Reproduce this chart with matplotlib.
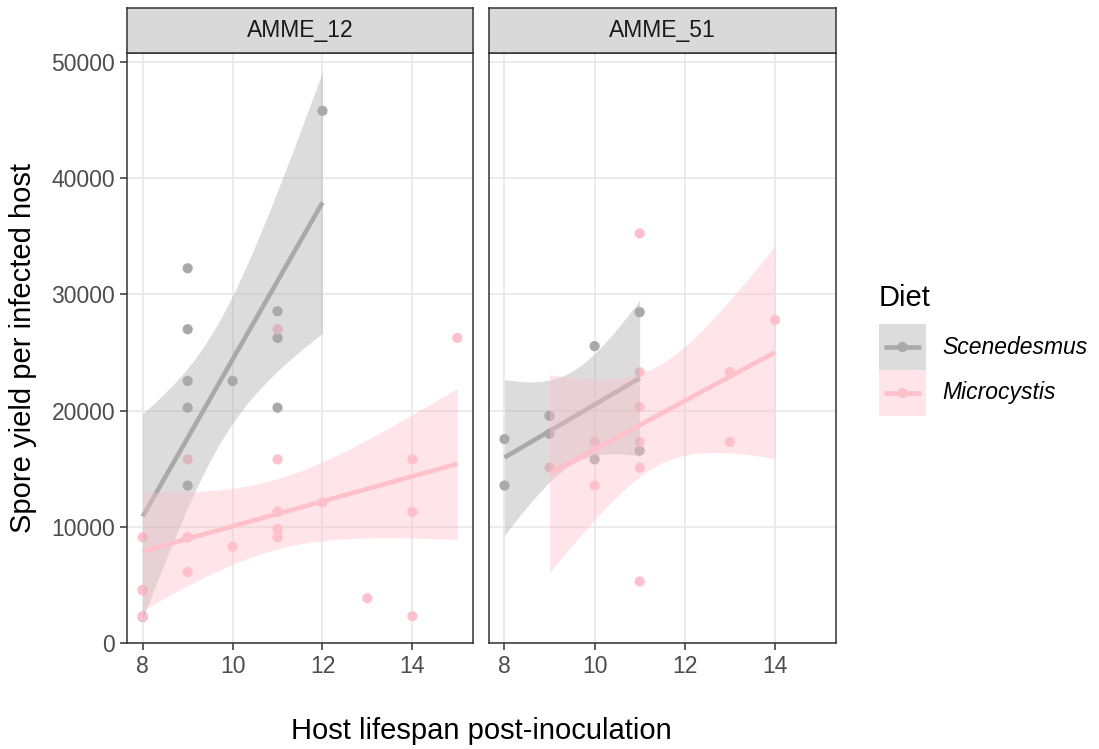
import numpy as np
import matplotlib
matplotlib.use("Agg")
import matplotlib.pyplot as plt
from matplotlib.patches import Rectangle
from math import gamma, sqrt, pi

plt.rcParams["font.family"] = ["Liberation Sans", "DejaVu Sans"]

# ---- data -------------------------------------------------------------
panels = ["AMME_12", "AMME_51"]
diets = ["Scenedesmus", "Microcystis"]

amme12_scen_x = [8, 8, 9, 9, 9, 9, 9, 10, 11, 11, 11, 12]
amme12_scen_y = [4550, 2250, 32250, 27000, 22550, 20250, 13550, 22550, 28550, 26250, 20250, 45800]

amme12_micro_x = [8, 8, 8, 9, 9, 9, 9, 10, 11, 11, 11, 11, 11, 11, 12, 13, 14, 14, 14, 15]
amme12_micro_y = [9100, 4550, 2300, 15800, 9100, 9100, 6100, 8300, 27000, 15800, 11300,
                  11300, 9800, 9100, 12100, 3850, 15800, 11300, 2300, 26250]

amme51_scen_x = [8, 8, 9, 9, 10, 10, 11, 11]
amme51_scen_y = [17550, 13550, 19550, 18000, 25550, 15800, 28470, 16550]

amme51_micro_x = [9, 10, 10, 11, 11, 11, 11, 11, 11, 13, 13, 13, 14]
amme51_micro_y = [15100, 17300, 13550, 35250, 23300, 20300, 17300, 15100, 5300,
                  23300, 23300, 17300, 27800]

x_ticks = [8, 10, 12, 14]
y_ticks = [0, 10000, 20000, 30000, 40000, 50000]

# ---- styling ----------------------------------------------------------
COL = {"Scenedesmus": "#A9A9A9", "Microcystis": "#FFC0CB"}
GRID = "#EBEBEB"
BORDER = "#333333"
SMALL = 16.5
LARGE = 21
W, H = 1099, 749


def t_quantile(p, df):
    grid = np.linspace(0, 12, 24001)
    c = gamma((df + 1) / 2) / (sqrt(df * pi) * gamma(df / 2))
    pdf = c * (1 + grid ** 2 / df) ** (-(df + 1) / 2)
    cdf = 0.5 + np.concatenate([[0], np.cumsum((pdf[1:] + pdf[:-1]) / 2 * np.diff(grid))])
    return float(np.interp(p, cdf, grid))


def lm_band(x, y, n=80):
    """Least-squares line with a 95% confidence band for the mean."""
    x = np.asarray(x, float)
    y = np.asarray(y, float)
    slope, intercept = np.polyfit(x, y, 1)
    xs = np.linspace(x.min(), x.max(), n)
    fit = intercept + slope * xs
    resid = y - (intercept + slope * x)
    dof = len(x) - 2
    s = np.sqrt(np.sum(resid ** 2) / dof)
    sxx = np.sum((x - x.mean()) ** 2)
    se = s * np.sqrt(1 / len(x) + (xs - x.mean()) ** 2 / sxx)
    t = t_quantile(0.975, dof)
    return xs, fit, fit - t * se, fit + t * se


def px_box(x0, y0, x1, y1):
    return [x0 / W, 1 - y1 / H, (x1 - x0) / W, (y1 - y0) / H]


fig = plt.figure(figsize=(W / 100, H / 100), dpi=100)

panel_px = [(127, 473), (488.7, 835.7)]
data = {
    "AMME_12": {"Scenedesmus": (amme12_scen_x, amme12_scen_y),
                "Microcystis": (amme12_micro_x, amme12_micro_y)},
    "AMME_51": {"Scenedesmus": (amme51_scen_x, amme51_scen_y),
                "Microcystis": (amme51_micro_x, amme51_micro_y)},
}

for i, (name, (px0, px1)) in enumerate(zip(panels, panel_px)):
    ax = fig.add_axes(px_box(px0, 53, px1, 643))
    ax.set_xlim(7.65, 15.35)
    ax.set_ylim(0, 50775)
    ax.set_xticks(x_ticks)
    ax.set_yticks(y_ticks)
    ax.grid(True, color=GRID, lw=1.4)
    ax.set_axisbelow(True)
    for sp in ax.spines.values():
        sp.set_color(BORDER)
        sp.set_linewidth(1.1)
    ax.tick_params(length=5, width=1.1, color=BORDER, labelcolor="#4D4D4D",
                   labelsize=SMALL, pad=3.5)
    if i > 0:
        ax.tick_params(axis="y", left=False, labelleft=False)

    # points first, smoothers layered on top
    for k, diet in enumerate(diets):
        xv, yv = data[name][diet]
        ax.scatter(xv, yv, s=54, color=COL[diet], edgecolors="none", zorder=2 + k * 0.1)
    z = 3
    for diet in diets:
        xv, yv = data[name][diet]
        xs, fit, lo, hi = lm_band(xv, yv)
        ax.fill_between(xs, lo, hi, color=COL[diet], alpha=0.4, lw=0, zorder=z)
        ax.plot(xs, fit, color=COL[diet], lw=3.3, zorder=z + 1, solid_capstyle="butt")
        z += 2

    # facet strip
    sax = fig.add_axes(px_box(px0, 8, px1, 53))
    sax.set_facecolor("#D9D9D9")
    sax.set_xticks([])
    sax.set_yticks([])
    for sp in sax.spines.values():
        sp.set_color(BORDER)
        sp.set_linewidth(1.1)
    sax.text(0.5, 0.5, name, transform=sax.transAxes, ha="center", va="center",
             fontsize=SMALL, color="#1A1A1A")

# axis titles
fig.text(481 / W, 1 - 731 / H, "Host lifespan post-inoculation", ha="center",
         va="center", fontsize=LARGE)
fig.text(23 / W, 1 - 348 / H, "Spore yield per infected host", ha="center",
         va="center", rotation=90, fontsize=LARGE)

# legend
lax = fig.add_axes([0, 0, 1, 1], facecolor="none")
lax.set_xlim(0, W)
lax.set_ylim(H, 0)
lax.axis("off")
lax.text(879, 298, "Diet", ha="left", va="center", fontsize=LARGE)
for j, diet in enumerate(diets):
    top = 324 + j * 46
    lax.add_patch(Rectangle((879, top), 47, 46, facecolor=COL[diet], alpha=0.4, lw=0))
    cy = top + 23
    lax.plot([884, 921], [cy, cy], color=COL[diet], lw=3.3, solid_capstyle="butt")
    lax.scatter([902.5], [cy], s=54, color=COL[diet], edgecolors="none")
    lax.text(942, cy, diet, ha="left", va="center", fontsize=SMALL, style="italic")

fig.savefig("out.png", dpi=100)
